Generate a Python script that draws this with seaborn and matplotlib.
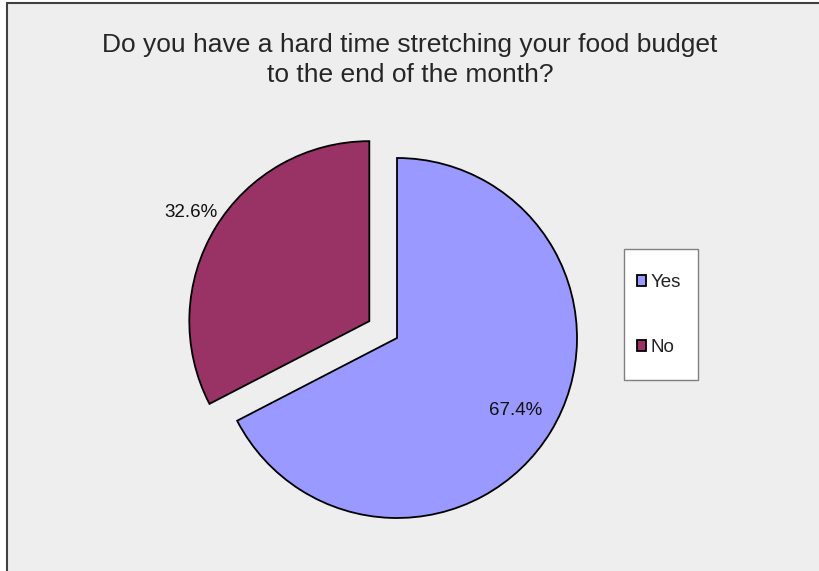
import matplotlib
matplotlib.use("Agg")
import matplotlib.pyplot as plt
import seaborn as sns
import numpy as np
from matplotlib.patches import Rectangle

# Survey answers
answers = ["Yes", "No"]
shares = [67.4, 32.6]
pct_labels = ["67.4%", "32.6%"]
slice_colors = ["#9999ff", "#993366"]
title = "Do you have a hard time stretching your food budget\nto the end of the month?"

sns.set_theme(style="white")
plt.rcParams["font.family"] = ["Liberation Sans", "DejaVu Sans"]
palette = sns.color_palette(slice_colors)

fig = plt.figure(figsize=(8.2, 5.71), dpi=100)
fig.patch.set_facecolor("white")
W, H = 820, 571

# chart area background with a dark frame line on the left and top
bg = Rectangle((7 / W, 0), 1 - 7 / W, 1 - 3 / H, transform=fig.transFigure,
               facecolor="#eeeeee", edgecolor="none", zorder=-10)
fig.patches.append(bg)
fig.add_artist(plt.Line2D([7 / W, 7 / W], [0, 1 - 3 / H], color="#404040", lw=1.5,
                          transform=fig.transFigure, zorder=-5))
fig.add_artist(plt.Line2D([7 / W, 1], [1 - 3 / H, 1 - 3 / H], color="#404040", lw=1.5,
                          transform=fig.transFigure, zorder=-5))

fig.text(410 / W, 1 - 60 / H, title, ha="center", va="center", fontsize=19,
         color="#262626", linespacing=1.3)

# pie axes: square in pixels, centred on the pie centre
r_px = 180
half = 1.3
side = 2 * half * r_px
cx, cy = 397, H - 338
ax = fig.add_axes([(cx - side / 2) / W, (cy - side / 2) / H, side / W, side / H])
ax.set_facecolor("none")

wedges, _ = ax.pie(shares, colors=palette, startangle=90, counterclock=False,
                   explode=[0, 0.18],
                   wedgeprops=dict(edgecolor="black", linewidth=1.3))
ax.set_xlim(-half, half)
ax.set_ylim(-half, half)
ax.axis("off")

# percentage labels, placed radially from each wedge's centre
label_dist = [0.77, 1.16]
for w, txt, d in zip(wedges, pct_labels, label_dist):
    mid = np.deg2rad((w.theta1 + w.theta2) / 2)
    x0, y0 = w.center
    ax.text(x0 + d * np.cos(mid), y0 + d * np.sin(mid), txt, ha="center", va="center",
            fontsize=13.5, color="#111111")

# legend box
fig.patches.append(Rectangle((624 / W, 1 - 380 / H), 74 / W, 131 / H,
                             transform=fig.transFigure, facecolor="white",
                             edgecolor="#808080", linewidth=1.0, zorder=1))
leg = fig.legend(wedges, answers, loc="center left",
                 bbox_to_anchor=(637 / W, 1 - 315 / H),
                 frameon=False, fontsize=13.5, labelspacing=2.55,
                 handlelength=0.5, handleheight=0.5, handletextpad=0.2,
                 borderpad=0, borderaxespad=0)
leg.set_zorder(2)
for t in leg.get_texts():
    t.set_color("#222222")

fig.savefig("out.png", dpi=100)
